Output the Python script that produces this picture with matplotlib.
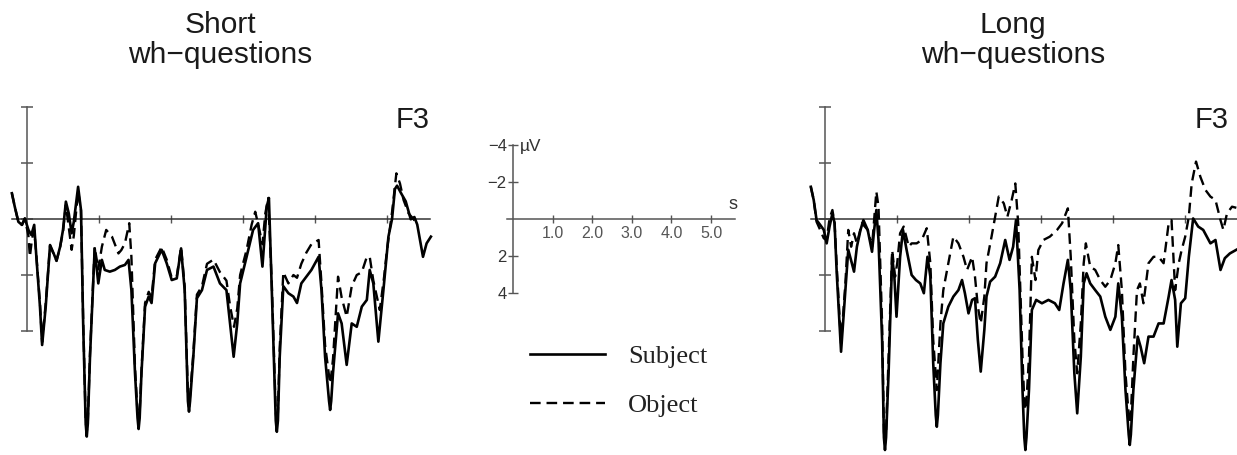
import matplotlib
matplotlib.use("Agg")
import matplotlib.pyplot as plt

W, H = 1237, 455

# ---------------- data (time in s, amplitude in µV; negative plotted up) ----------------
short_subject_t = [-0.21, -0.17, -0.12, -0.07, -0.03, 0.02, 0.06, 0.10, 0.13, 0.18, 0.21, 0.26, 0.32, 0.37,
                   0.41, 0.46, 0.50, 0.54, 0.58, 0.62, 0.65, 0.71, 0.75, 0.78, 0.815, 0.83, 0.845, 0.875, 0.94,
                   0.99, 1.04, 1.08, 1.15, 1.22, 1.29, 1.36, 1.41, 1.45, 1.50, 1.535, 1.55, 1.565, 1.59, 1.64,
                   1.69, 1.73, 1.78, 1.87, 1.94, 2.01, 2.08, 2.14, 2.19, 2.235, 2.25, 2.265, 2.31, 2.36, 2.43,
                   2.50, 2.59, 2.68, 2.77, 2.82, 2.87, 2.92, 2.96, 3.05, 3.14, 3.21, 3.27, 3.33, 3.36, 3.40,
                   3.455, 3.47, 3.485, 3.51, 3.56, 3.63, 3.70, 3.75, 3.81, 3.88, 3.95, 4.05, 4.09, 4.14, 4.195,
                   4.21, 4.225, 4.25, 4.32, 4.37, 4.44, 4.51, 4.58, 4.65, 4.72, 4.76, 4.81, 4.88, 4.95, 5.02,
                   5.07, 5.11, 5.14, 5.20, 5.26, 5.33, 5.38, 5.42, 5.50, 5.55, 5.61]
short_subject_v = [-0.92, -0.44, 0.10, 0.21, -0.02, 0.39, 0.57, 0.21, 1.35, 3.13, 4.50, 3.13, 0.93, 1.23,
                   1.49, 0.99, 0.39, -0.62, -0.20, 0.51, 0.10, -1.15, -0.32, 3.73, 7.30, 7.77, 7.30, 4.92, 1.05,
                   2.30, 1.46, 1.82, 1.88, 1.82, 1.70, 1.64, 1.46, 2.54, 5.50, 7.10, 7.50, 7.10, 5.50, 3.13,
                   2.77, 3.00, 1.58, 1.10, 1.58, 2.18, 2.12, 1.05, 2.54, 6.50, 6.88, 6.50, 4.92, 2.83, 2.54,
                   1.82, 1.70, 2.30, 2.54, 3.73, 4.92, 3.73, 2.30, 1.35, 0.39, 0.15, 1.70, -0.44, -0.75, 2.54,
                   7.20, 7.60, 7.20, 4.92, 2.40, 2.65, 2.77, 3.00, 2.30, 2.06, 1.82, 1.35, 2.54, 4.92, 6.50,
                   6.82, 6.50, 5.50, 3.37, 3.73, 5.21, 3.73, 3.85, 3.13, 2.89, 1.82, 2.30, 4.38, 2.54, 0.63,
                   0.00, -1.07, -1.19, -0.90, -0.63, 0.01, -0.07, 0.20, 1.35, 0.87, 0.63]

short_object_t = [-0.21, -0.17, -0.12, -0.07, -0.03, 0.02, 0.04, 0.07, 0.10, 0.13, 0.18, 0.21, 0.26, 0.32,
                  0.37, 0.41, 0.46, 0.50, 0.54, 0.58, 0.62, 0.65, 0.71, 0.75, 0.78, 0.815, 0.83, 0.845, 0.875,
                  0.94, 0.99, 1.04, 1.10, 1.18, 1.27, 1.31, 1.36, 1.42, 1.45, 1.50, 1.535, 1.55, 1.565, 1.59,
                  1.64, 1.69, 1.73, 1.78, 1.87, 1.94, 2.01, 2.08, 2.14, 2.19, 2.235, 2.25, 2.265, 2.31, 2.36,
                  2.43, 2.50, 2.59, 2.68, 2.77, 2.82, 2.875, 2.92, 2.96, 3.05, 3.12, 3.17, 3.22, 3.27, 3.31,
                  3.35, 3.40, 3.455, 3.47, 3.485, 3.51, 3.56, 3.63, 3.70, 3.75, 3.81, 3.88, 3.95, 4.05, 4.09,
                  4.14, 4.195, 4.21, 4.225, 4.25, 4.32, 4.37, 4.44, 4.51, 4.58, 4.65, 4.72, 4.76, 4.81, 4.90,
                  4.96, 5.00, 5.07, 5.13, 5.18, 5.23, 5.30, 5.37, 5.42]
short_object_v = [-0.92, -0.44, 0.10, 0.21, -0.02, 0.60, 1.35, 0.70, 0.40, 1.30, 3.00, 4.40, 3.00, 0.95,
                  1.25, 1.50, 1.00, 0.45, -0.50, 0.30, 1.10, 0.60, -1.00, -0.30, 3.60, 7.20, 7.60, 7.20, 4.80,
                  1.00, 1.80, 0.99, 0.39, 0.63, 1.23, 1.11, 0.87, 0.15, 1.35, 5.30, 6.90, 7.30, 6.90, 5.40,
                  3.00, 2.60, 2.80, 1.45, 1.00, 1.45, 2.10, 2.05, 1.00, 2.40, 6.30, 6.70, 6.30, 4.80, 2.70,
                  2.40, 1.60, 1.45, 1.90, 2.20, 3.10, 3.85, 3.20, 2.00, 1.10, 0.20, -0.26, 0.30, 0.90, -0.20,
                  -0.75, 2.30, 6.90, 7.30, 6.90, 4.60, 1.90, 2.30, 2.00, 2.10, 1.60, 1.20, 0.90, 0.75, 2.30,
                  4.50, 5.60, 5.87, 5.60, 5.00, 2.06, 2.80, 3.49, 2.40, 2.00, 1.90, 1.35, 1.35, 2.20, 3.25,
                  2.06, 1.10, -0.24, -1.63, -1.27, -0.68, -0.20, 0.01, 0.20]

long_subject_t = [-0.19, -0.15, -0.11, -0.06, -0.01, 0.03, 0.07, 0.11, 0.14, 0.17, 0.23, 0.29, 0.33, 0.38,
                  0.41, 0.45, 0.50, 0.54, 0.60, 0.66, 0.69, 0.72, 0.75, 0.80, 0.825, 0.84, 0.855, 0.89, 0.94,
                  0.97, 1.00, 1.05, 1.09, 1.14, 1.21, 1.27, 1.33, 1.38, 1.43, 1.47, 1.51, 1.545, 1.56, 1.575,
                  1.61, 1.65, 1.72, 1.79, 1.86, 1.91, 1.95, 2.00, 2.05, 2.09, 2.13, 2.17, 2.22, 2.25, 2.30,
                  2.37, 2.44, 2.51, 2.57, 2.62, 2.66, 2.71, 2.75, 2.775, 2.79, 2.805, 2.84, 2.88, 2.94, 3.02,
                  3.11, 3.20, 3.26, 3.32, 3.38, 3.42, 3.47, 3.51, 3.56, 3.60, 3.64, 3.69, 3.76, 3.83, 3.90,
                  3.97, 4.04, 4.08, 4.13, 4.18, 4.225, 4.24, 4.255, 4.29, 4.35, 4.39, 4.44, 4.50, 4.57, 4.64,
                  4.71, 4.78, 4.82, 4.87, 4.90, 4.95, 5.01, 5.06, 5.12, 5.19, 5.26, 5.36, 5.43, 5.50, 5.56,
                  5.63, 5.72]
long_subject_v = [-1.15, -0.68, 0.04, 0.21, 0.39, 0.87, 0.27, -0.20, 0.15, 1.94, 4.74, 2.54, 1.10, 1.58,
                  1.88, 0.99, 0.39, 0.04, 0.39, 1.17, 0.39, -0.32, 0.75, 4.32, 7.80, 8.25, 7.80, 5.50, 1.35,
                  2.06, 3.49, 1.35, 0.39, 1.10, 2.00, 2.18, 2.30, 2.65, 1.35, 2.06, 5.15, 7.00, 7.42, 7.00,
                  5.15, 3.73, 3.13, 2.77, 2.54, 2.18, 2.65, 3.37, 2.89, 2.83, 4.32, 5.45, 3.96, 2.77, 2.24,
                  2.06, 1.58, 0.75, 1.46, 0.99, 0.04, 2.54, 6.10, 7.80, 8.25, 7.80, 6.10, 3.25, 2.89, 3.01,
                  2.89, 3.01, 3.25, 2.30, 1.46, 2.54, 5.50, 6.94, 4.92, 2.30, 1.94, 2.30, 2.54, 2.77, 3.49,
                  3.96, 3.49, 2.30, 3.49, 6.10, 7.70, 8.07, 7.70, 6.10, 4.20, 4.56, 5.15, 4.20, 4.20, 3.73,
                  3.73, 2.77, 2.18, 2.89, 4.56, 3.01, 2.83, 1.35, -0.02, 0.27, 0.39, 0.87, 0.75, 1.82, 1.40,
                  1.23, 1.10]

long_object_t = [-0.19, -0.15, -0.11, -0.06, -0.01, 0.03, 0.07, 0.11, 0.14, 0.17, 0.23, 0.29, 0.33, 0.37,
                 0.41, 0.45, 0.52, 0.60, 0.66, 0.72, 0.75, 0.80, 0.825, 0.84, 0.855, 0.89, 0.94, 0.98, 1.01,
                 1.05, 1.10, 1.17, 1.21, 1.28, 1.35, 1.42, 1.47, 1.51, 1.56, 1.61, 1.65, 1.72, 1.79, 1.86,
                 1.93, 1.98, 2.05, 2.09, 2.13, 2.17, 2.22, 2.25, 2.32, 2.37, 2.42, 2.49, 2.54, 2.60, 2.65,
                 2.69, 2.75, 2.775, 2.79, 2.805, 2.84, 2.88, 2.93, 2.97, 3.04, 3.13, 3.23, 3.30, 3.38, 3.42,
                 3.47, 3.51, 3.56, 3.60, 3.63, 3.69, 3.76, 3.83, 3.90, 3.97, 4.04, 4.08, 4.13, 4.18, 4.225,
                 4.24, 4.255, 4.29, 4.34, 4.38, 4.43, 4.50, 4.57, 4.64, 4.71, 4.78, 4.82, 4.87, 4.92, 4.96,
                 5.01, 5.06, 5.10, 5.16, 5.22, 5.29, 5.36, 5.43, 5.50, 5.54, 5.59, 5.66, 5.72]
long_object_v = [-1.15, -0.68, 0.10, 0.39, 0.69, 0.75, -0.02, -0.32, 0.15, 1.70, 4.44, 2.30, 0.39, 0.99,
                 0.51, 0.87, 0.15, 0.39, 0.99, -0.98, -0.44, 3.73, 7.60, 8.01, 7.60, 4.92, 1.11, 2.06, 1.58,
                 0.51, 0.27, 0.99, 0.87, 0.87, 0.75, 0.33, 1.58, 4.32, 6.11, 3.73, 2.54, 1.58, 0.63, 0.87,
                 1.35, 1.82, 1.35, 2.06, 3.13, 3.73, 2.77, 1.58, 0.63, -0.08, -0.80, -0.56, -0.08, -0.68,
                 -1.27, 0.15, 4.92, 6.50, 6.82, 6.50, 4.92, 1.35, 2.18, 1.11, 0.75, 0.63, 0.39, 0.15, -0.38,
                 1.35, 4.32, 5.51, 3.73, 1.58, 0.87, 1.70, 1.82, 2.18, 2.42, 2.18, 1.58, 0.93, 2.54, 5.51,
                 7.00, 7.30, 7.00, 4.92, 2.54, 2.30, 3.01, 1.58, 1.35, 1.35, 1.58, 0.15, 0.04, 2.54, 1.58,
                 1.11, 0.63, -0.08, -1.27, -2.05, -1.51, -1.04, -0.80, -0.68, 0.04, 0.39, -0.20, -0.44, -0.40]

panel_titles = ["Short\nwh\u2212questions", "Long\nwh\u2212questions"]
electrode = "F3"
scale_y_ticks = [-4, -2, 2, 4]
scale_y_labels = ["\u22124", "\u22122", "2", "4"]
scale_x_ticks = [1, 2, 3, 4, 5]
scale_x_labels = ["1.0", "2.0", "3.0", "4.0", "5.0"]
legend_labels = ["Subject", "Object"]

# ---------------- layout helpers ----------------
SANS = "Liberation Sans"
SERIF = "Liberation Serif"
AXCOL = "#555555"


def make_axes(x0, x1, y0, y1, t0px, v0px, px_s, px_uv):
    ax = fig.add_axes([x0 / W, 1 - y1 / H, (x1 - x0) / W, (y1 - y0) / H])
    ax.set_xlim((x0 - t0px) / px_s, (x1 - t0px) / px_s)
    ax.set_ylim((y1 - v0px) / px_uv, (y0 - v0px) / px_uv)   # negative up
    ax.patch.set_alpha(0)
    for s in ("top", "right"):
        ax.spines[s].set_visible(False)
    ax.spines["left"].set_position(("data", 0))
    ax.spines["bottom"].set_position(("data", 0))
    ax.spines["left"].set_color(AXCOL)
    ax.spines["bottom"].set_color("#333333")
    ax.spines["left"].set_linewidth(1.1)
    ax.spines["bottom"].set_linewidth(1.1)
    return ax


fig = plt.figure(figsize=(W / 100, H / 100), dpi=100)
fig.patch.set_facecolor("white")

panels = [
    dict(x0=0, x1=440, t0=27.0, t_start=-0.21, t_end=5.60,
         sub=(short_subject_t, short_subject_v), obj=(short_object_t, short_object_v),
         title_x=220, f3_x=430),
    dict(x0=790, x1=1237, t0=824.5, t_start=-0.19, t_end=5.73,
         sub=(long_subject_t, long_subject_v), obj=(long_object_t, long_object_v),
         title_x=1013, f3_x=1229),
]

handles = []
for i, p in enumerate(panels):
    ax = make_axes(p["x0"], p["x1"], 95, 455, p["t0"], 219, 72.0, 28.0)
    ax.spines["left"].set_bounds(-4, 4)
    ax.spines["bottom"].set_bounds(p["t_start"], p["t_end"])
    ax.set_yticks([-4, -2, 0, 2, 4])
    ax.set_yticklabels([])
    ax.set_xticks([1, 2, 3, 4, 5])
    ax.set_xticklabels([])
    ax.tick_params(axis="y", direction="inout", length=8, width=1.1, color=AXCOL)
    ax.tick_params(axis="x", direction="inout", length=6, width=1.0, color=AXCOL)
    l1, = ax.plot(p["sub"][0], p["sub"][1], color="black", lw=1.9, zorder=4,
                  solid_joinstyle="round")
    l2, = ax.plot(p["obj"][0], p["obj"][1], color="black", lw=1.7, zorder=3,
                  linestyle=(0, (4.5, 2.5)))
    if i == 0:
        handles = [l1, l2]
    t1, t2 = panel_titles[i].split("\n")
    fig.text(p["title_x"] / W, 1 - 33 / H, t1, ha="center", va="baseline",
             fontsize=21.5, family=SANS, color="#1a1a1a")
    fig.text(p["title_x"] / W, 1 - 63 / H, t2, ha="center", va="baseline",
             fontsize=21.5, family=SANS, color="#1a1a1a")
    fig.text(p["f3_x"] / W, 1 - 128 / H, electrode, ha="right", va="baseline",
             fontsize=21, family=SANS, color="#1a1a1a")

# ---------------- scale (middle) ----------------
sx = make_axes(470, 760, 120, 320, 513, 219, 39.6, 18.5)
sx.spines["left"].set_bounds(-4, 4)
sx.spines["bottom"].set_bounds(-0.15, 5.6)
sx.spines["bottom"].set_color(AXCOL)
sx.set_yticks(scale_y_ticks)
sx.set_yticklabels(scale_y_labels, family=SANS, fontsize=12, color="#333333")
sx.set_xticks(scale_x_ticks)
sx.set_xticklabels(scale_x_labels, family=SANS, fontsize=11.5, color="#555555")
sx.tick_params(axis="y", direction="inout", length=7, width=1.0, color=AXCOL, pad=1)
sx.tick_params(axis="x", direction="inout", length=6, width=1.0, color=AXCOL, pad=2)
sx.text(0.18, -3.9, "\u00b5V", family=SANS, fontsize=12.5, color="#333333",
        ha="left", va="center")
sx.text(5.55, -0.35, "s", family=SANS, fontsize=13, color="#333333",
        ha="center", va="bottom")

# ---------------- legend ----------------
fig.legend(handles, legend_labels, loc="center left",
           bbox_to_anchor=(530 / W, 1 - 381 / H), frameon=False,
           prop=dict(family=SERIF, size=19), handlelength=2.85,
           handletextpad=0.87, labelspacing=0.95, borderpad=0, borderaxespad=0,
           labelcolor="#222222")

fig.savefig("out.png", dpi=100, facecolor="white")
